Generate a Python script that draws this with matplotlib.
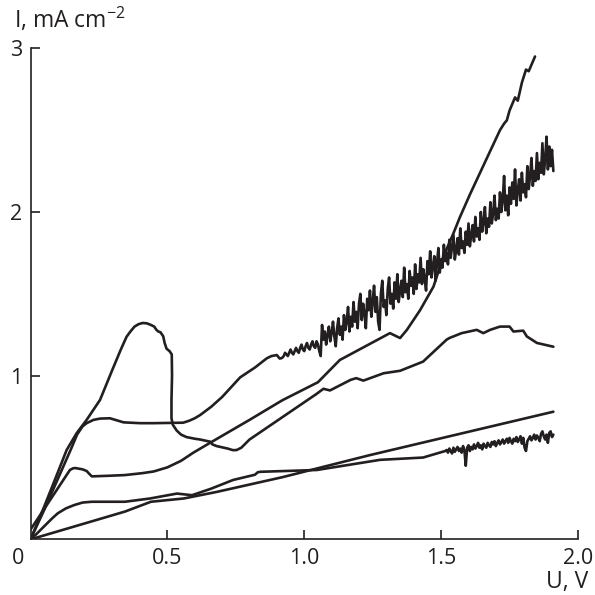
import matplotlib
matplotlib.use('Agg')
from matplotlib import pyplot as plt
import numpy as np

plt.rcParams['font.family'] = ['Open Sans', 'DejaVu Sans']
plt.rcParams['font.size'] = 15

INK = '#231f20'

# curve with the big peak near 0.4 V
a_u = [0, 0.05, 0.10, 0.132, 0.169, 0.205, 0.254, 0.30, 0.33, 0.351, 0.365, 0.38, 0.395,
       0.41, 0.425, 0.44, 0.452, 0.46, 0.467, 0.475, 0.485, 0.49, 0.497, 0.508, 0.516,
       0.517, 0.515, 0.515, 0.52, 0.534, 0.55, 0.57, 0.60, 0.62, 0.656, 0.665, 0.68, 0.72,
       0.74, 0.753, 0.77, 0.80, 0.923, 1.046, 1.07, 1.094, 1.17, 1.19, 1.216, 1.29, 1.35,
       1.434, 1.52, 1.53, 1.575, 1.63, 1.654, 1.679, 1.715, 1.75, 1.764, 1.80, 1.813, 1.85,
       1.91]
a_i = [0, 0.20, 0.41, 0.546, 0.65, 0.73, 0.852, 1.04, 1.16, 1.238, 1.27, 1.30, 1.315,
       1.322, 1.32, 1.31, 1.30, 1.28, 1.27, 1.265, 1.24, 1.20, 1.165, 1.15, 1.13,
       1.0, 0.85, 0.74, 0.70, 0.665, 0.64, 0.625, 0.615, 0.61, 0.597, 0.58, 0.57, 0.555,
       0.545, 0.546, 0.56, 0.61, 0.75, 0.89, 0.92, 0.91, 0.975, 0.985, 0.97, 1.015, 1.03,
       1.086, 1.22, 1.23, 1.26, 1.28, 1.26, 1.28, 1.30, 1.30, 1.27, 1.275, 1.24, 1.20,
       1.177]

# curve with the plateau at 0.7, noisy above 0.92 V
b_u = [0, 0.05, 0.10, 0.15, 0.17, 0.19, 0.205, 0.23, 0.254, 0.29, 0.32, 0.34, 0.40, 0.45,
       0.558, 0.58, 0.60, 0.62, 0.66, 0.70, 0.766, 0.82, 0.863, 0.88, 0.90, 0.91, 0.915]
b_i = [0, 0.18, 0.37, 0.56, 0.64, 0.69, 0.71, 0.73, 0.738, 0.74, 0.725, 0.715, 0.71, 0.71,
       0.713, 0.725, 0.74, 0.76, 0.81, 0.87, 0.99, 1.05, 1.106, 1.12, 1.126, 1.105, 1.106]
b_noise_i = [1.11, 1.12, 1.14, 1.13, 1.12, 1.14, 1.16, 1.14, 1.13, 1.15,
             1.17, 1.15, 1.14, 1.17, 1.19, 1.16, 1.15, 1.18, 1.20, 1.17,
             1.16, 1.19, 1.21, 1.18, 1.17, 1.21, 1.19, 1.15, 1.12,
             1.31, 1.22, 1.27, 1.19, 1.25, 1.30, 1.21, 1.26, 1.33, 1.24,
             1.18, 1.29, 1.35, 1.25, 1.30, 1.22, 1.37, 1.28, 1.33, 1.42,
             1.27, 1.36, 1.30, 1.45, 1.33, 1.39, 1.29, 1.44,
             1.50, 1.34, 1.44, 1.38, 1.29, 1.47, 1.40, 1.52, 1.36, 1.45,
             1.55, 1.39, 1.48, 1.33, 1.28, 1.50, 1.58, 1.42, 1.46, 1.37,
             1.53, 1.60, 1.44, 1.50, 1.41, 1.57, 1.47, 1.62, 1.45, 1.52,
             1.58, 1.48, 1.66, 1.51, 1.56, 1.47, 1.64, 1.55, 1.60, 1.50,
             1.68, 1.53, 1.62, 1.57, 1.72, 1.56, 1.65, 1.59, 1.52, 1.70,
             1.62, 1.76, 1.60, 1.67, 1.73, 1.58, 1.69, 1.78, 1.63, 1.71,
             1.66, 1.80, 1.70, 1.75, 1.68, 1.83, 1.72, 1.79, 1.86, 1.71,
             1.77, 1.84, 1.74, 1.90, 1.78, 1.82, 1.75, 1.88, 1.80, 1.93,
             1.79, 1.86, 1.92, 1.82, 1.97, 1.85, 1.90, 1.83, 2.00, 1.88,
             1.94, 2.03, 1.87, 1.96, 1.91, 2.06, 1.93, 1.99, 2.10, 1.95,
             2.02, 1.96, 2.12, 2.00, 2.07, 2.22, 2.01, 2.10, 1.98, 2.15,
             2.05, 2.18, 2.08, 2.26, 2.04, 2.13, 2.20, 2.07, 2.24, 2.12,
             2.17, 2.09, 2.28, 2.14, 2.22, 2.33, 2.16, 2.25, 2.19, 2.36,
             2.20, 2.30, 2.24, 2.42, 2.23, 2.32, 2.46, 2.26, 2.40, 2.28,
             2.38, 2.25]
b_noise_u = np.linspace(0.92, 1.91, len(b_noise_i))

# curve going up to 3 mA cm-2
c_u = [0, 0.02, 0.144, 0.155, 0.163, 0.19, 0.205, 0.215, 0.224, 0.29, 0.345, 0.41, 0.45,
       0.50, 0.55, 0.595, 0.656, 0.80, 0.92, 1.05, 1.13, 1.313, 1.35, 1.375, 1.423, 1.472,
       1.508, 1.545, 1.569, 1.606, 1.673, 1.715, 1.73, 1.74, 1.75, 1.77, 1.78, 1.795,
       1.81, 1.82, 1.843]
c_i = [0.06, 0.11, 0.424, 0.434, 0.436, 0.428, 0.418, 0.40, 0.385, 0.389, 0.393, 0.405,
       0.415, 0.44, 0.48, 0.53, 0.59, 0.73, 0.85, 0.96, 1.096, 1.26, 1.23, 1.28, 1.40,
       1.544, 1.727, 1.87, 1.97, 2.11, 2.35, 2.50, 2.54, 2.56, 2.62, 2.70, 2.68, 2.79,
       2.87, 2.86, 2.95]

# nearly straight line
d_u = [0, 0.345, 0.44, 0.56, 0.68, 0.92, 1.24, 1.91]
d_i = [0, 0.17, 0.23, 0.25, 0.29, 0.38, 0.515, 0.78]

# low curve, noisy above 1.52 V
e_u = [0, 0.02, 0.05, 0.08, 0.10, 0.13, 0.16, 0.19, 0.224, 0.345, 0.437, 0.535, 0.59,
       0.66, 0.74, 0.82, 0.83, 0.84, 1.046, 1.277, 1.434, 1.515]
e_i = [0, 0.03, 0.08, 0.13, 0.16, 0.19, 0.21, 0.225, 0.23, 0.23, 0.25, 0.28, 0.27,
       0.31, 0.363, 0.395, 0.41, 0.413, 0.424, 0.486, 0.50, 0.54]
e_noise_i = [0.546, 0.53, 0.555, 0.54, 0.525, 0.56, 0.535, 0.55, 0.565, 0.54,
             0.555, 0.53, 0.57, 0.545, 0.45, 0.56, 0.575, 0.54, 0.565, 0.55,
             0.58, 0.555, 0.57, 0.59, 0.56, 0.575, 0.55, 0.585, 0.57, 0.56,
             0.59, 0.575, 0.565, 0.595, 0.58, 0.60, 0.57, 0.59, 0.605, 0.58,
             0.595, 0.61, 0.585, 0.60, 0.615, 0.59, 0.62, 0.60, 0.585, 0.615,
             0.60, 0.625, 0.595, 0.61, 0.63, 0.585, 0.62, 0.56, 0.54, 0.60,
             0.615, 0.63, 0.605, 0.62, 0.64, 0.61, 0.635, 0.62, 0.60, 0.645,
             0.66, 0.63, 0.61, 0.64, 0.59, 0.65, 0.66, 0.625,
             0.64]
e_noise_u = np.linspace(1.52, 1.91, len(e_noise_i))

fig = plt.figure(figsize=(5.95, 5.95), dpi=100)
ax = fig.add_axes([30.5 / 595, 55.6 / 595, 547.5 / 595, 491.1 / 595])

lw = 1.9
kw = dict(color=INK, lw=lw, solid_joinstyle='round', solid_capstyle='round')
ax.plot(a_u, a_i, **kw)
ax.plot(list(b_u) + list(b_noise_u), list(b_i) + list(b_noise_i), **kw)
ax.plot(c_u, c_i, **kw)
ax.plot(d_u, d_i, **kw)
ax.plot(list(e_u) + list(e_noise_u), list(e_i) + list(e_noise_i), **kw)

ax.set_xlim(0, 2.0)
ax.set_ylim(0, 3)
ax.spines['top'].set_visible(False)
ax.spines['right'].set_visible(False)
for s in ('left', 'bottom'):
    ax.spines[s].set_color(INK)
    ax.spines[s].set_linewidth(1.2)
ax.set_xticks([0.5, 1.0, 1.5, 2.0])
ax.set_xticklabels(['0.5', '1.0', '1.5', '2.0'])
ax.set_yticks([1, 2, 3])
ax.set_yticklabels(['1', '2', '3'])
ax.tick_params(direction='in', length=6.5, width=1.2, color=INK, labelcolor=INK, pad=6,
               labelsize=15.5)
ax.annotate('0', xy=(0, 0), xycoords='data', xytext=(-4.5, -6), textcoords='offset points',
            ha='right', va='top', fontsize=15.5, color=INK)

fig.text(14 / 595, 1 - 28.3 / 595, r'I, mA cm$\mathregular{^{-2}}$', ha='left',
         va='baseline', fontsize=16.5, color=INK)
fig.text(588 / 595, 1 - 588 / 595, 'U, V', ha='right', va='baseline', fontsize=16.5,
         color=INK)

fig.savefig('out.png', dpi=100)
plt.close()
